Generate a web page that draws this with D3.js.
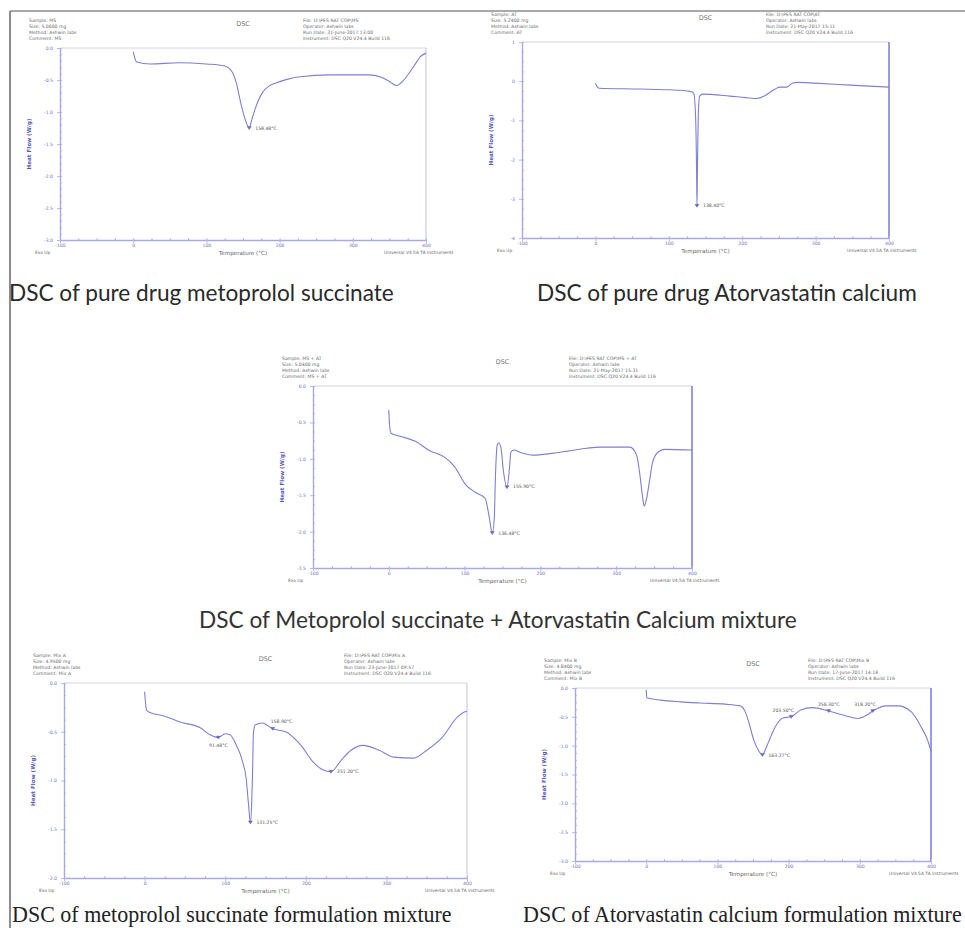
<!DOCTYPE html>
<html>
<head>
<meta charset="utf-8">
<script src="https://cdn.jsdelivr.net/npm/d3@7"></script>
<style>
  body { margin: 0; background: #fff; }
  svg { display: block; }
</style>
</head>
<body>
<svg id="fig" width="965" height="928"></svg>
<script>
// ---- Data -------------------------------------------------------------

// Temperature axis ticks shared by all thermograms (°C)
const tempTicks = [-100, 0, 100, 200, 300, 400];

// Heat flow curves as [temperature (°C), heat flow (W/g)]
const curveMS = [
  [0, -0.06], [2, -0.15], [5, -0.22], [23, -0.25], [64, -0.23], [100, -0.25],
  [125, -0.28], [135, -0.37], [141, -0.55], [146, -0.81], [152, -1.08],
  [158.48, -1.25], [162, -1.12], [166, -0.97], [171, -0.82], [177, -0.69],
  [185, -0.60], [194, -0.55], [210, -0.49], [228, -0.45], [269, -0.42],
  [323, -0.42], [340, -0.46], [351, -0.53], [360, -0.59], [368, -0.52],
  [378, -0.375], [386, -0.24], [392, -0.14], [400, -0.08]
];

const curveAT = [
  [0, -0.05], [3, -0.15], [5, -0.18], [61, -0.20], [100, -0.22], [129, -0.26],
  [134, -0.31], [136.5, -0.9], [137.8, -2.2], [138.4, -3.18], [139.2, -2.0],
  [140.5, -0.7], [142, -0.38], [146, -0.33], [183, -0.38], [205, -0.42],
  [220, -0.44], [230, -0.38], [238, -0.28], [245, -0.20], [251, -0.15],
  [261, -0.15], [268, -0.05], [276, -0.03], [299, -0.05], [347, -0.10],
  [400, -0.15]
];

const curveMix = [
  [0, -0.33], [1, -0.54], [3, -0.65], [15, -0.69], [35, -0.76], [54, -0.89],
  [74, -0.98], [87, -1.11], [101, -1.35], [114, -1.46], [127, -1.54],
  [132, -1.77], [136.48, -2.02], [139, -1.84], [141, -1.15], [143, -0.81],
  [145, -0.78], [148, -0.85], [151, -1.15], [155.9, -1.39], [159, -1.15],
  [161, -0.91], [165, -0.88], [173, -0.91], [190, -0.95], [226, -0.91],
  [279, -0.84], [318, -0.84], [327, -0.95], [331, -1.2], [334.5, -1.5],
  [337, -1.65], [340, -1.55], [344, -1.3], [348, -1.05], [355, -0.91],
  [364, -0.87], [400, -0.88]
];

const curveFormMS = [
  [0, -0.09], [2.5, -0.28], [6, -0.30], [25, -0.34], [44, -0.40], [69, -0.46],
  [81, -0.53], [91.48, -0.56], [100, -0.52], [106, -0.53], [114, -0.64],
  [121, -0.79], [126, -0.98], [129, -1.25], [131.25, -1.43], [133, -1.2],
  [134, -0.9], [135, -0.52], [137, -0.43], [146, -0.41], [158.9, -0.47],
  [175, -0.50], [194, -0.64], [209, -0.81], [221, -0.89], [231.2, -0.91],
  [244, -0.79], [256, -0.69], [271, -0.64], [291, -0.69], [309, -0.76],
  [334, -0.77], [350, -0.69], [369, -0.56], [388, -0.35], [396, -0.30],
  [400, -0.29]
];

const curveFormAT = [
  [0, -0.03], [1, -0.17], [20, -0.21], [48, -0.24], [76, -0.26], [111, -0.28],
  [132, -0.31], [139, -0.41], [144, -0.59], [151, -0.90], [157, -1.07],
  [163.27, -1.16], [168, -1.05], [172, -0.93], [182, -0.66], [192, -0.52],
  [203.5, -0.50], [217, -0.38], [234, -0.34], [256.3, -0.40], [280, -0.48],
  [297, -0.53], [310, -0.47], [318.2, -0.40], [337, -0.31], [354, -0.31],
  [372, -0.41], [386, -0.67], [396, -0.93], [400, -1.10]
];

// Annotated peak temperatures (°C)
const peaksMS = [158.48];
const peaksAT = [138.40];
const peaksMix = [136.48, 155.90];
const peaksFormMS = [91.48, 131.25, 158.90, 231.20];
const peaksFormAT = [163.27, 203.50, 256.30, 318.20];

// Heat flow axis ticks (W/g)
const yTicksMS = [0, -0.5, -1.0, -1.5, -2.0, -2.5, -3.0];
const yTicksAT = [1, 0, -1, -2, -3, -4];
const yTicksMix = [0, -0.5, -1.0, -1.5, -2.0, -2.5];
const yTicksFormMS = [0, -0.5, -1.0, -1.5, -2.0];
const yTicksFormAT = [0, -0.5, -1.0, -1.5, -2.0, -2.5, -3.0];

// Run information printed above each thermogram
const infoMS = ["Sample: MS", "Size: 5.0600 mg", "Method: Ashwin labs", "Comment: MS"];
const fileMS = ["File: D:\\PES RAT COP\\MS", "Operator: Ashwin labs", "Run Date: 21-June-2017 13:00", "Instrument: DSC Q20 V24.4 Build 116"];
const infoAT = ["Sample: AT", "Size: 5.2400 mg", "Method: Ashwin labs", "Comment: AT"];
const fileAT = ["File: D:\\PES RAT COP\\AT", "Operator: Ashwin labs", "Run Date: 21-May-2017 15:11", "Instrument: DSC Q20 V24.4 Build 116"];
const infoMix = ["Sample: MS + AT", "Size: 5.0400 mg", "Method: Ashwin labs", "Comment: MS + AT"];
const fileMix = ["File: D:\\PES RAT COP\\MS + AT", "Operator: Ashwin labs", "Run Date: 21-May-2017 15:31", "Instrument: DSC Q20 V24.4 Build 116"];
const infoFormMS = ["Sample: Mix A", "Size: 4.9500 mg", "Method: Ashwin labs", "Comment: Mix A"];
const fileFormMS = ["File: D:\\PES RAT COP\\Mix A", "Operator: Ashwin labs", "Run Date: 23-June-2017 09:57", "Instrument: DSC Q20 V24.4 Build 116"];
const infoFormAT = ["Sample: Mix B", "Size: 4.8400 mg", "Method: Ashwin labs", "Comment: Mix B"];
const fileFormAT = ["File: D:\\PES RAT COP\\Mix B", "Operator: Ashwin labs", "Run Date: 17-June-2017 14:18", "Instrument: DSC Q20 V24.4 Build 116"];

// Figure captions
const captions = [
  "DSC of pure drug metoprolol succinate",
  "DSC of pure drug Atorvastatin calcium",
  "DSC of Metoprolol succinate + Atorvastatin Calcium mixture",
  "DSC of metoprolol succinate formulation mixture",
  "DSC of Atorvastatin calcium formulation mixture"
];

// ---- Layout -----------------------------------------------------------

const panels = [
  { curve: curveMS, peaks: peaksMS, yTicks: yTicksMS, yDomain: [-3, 0], yMinor: 0.1, dec: 1,
    box: { l: 60, t: 48, r: 426, b: 240 }, info: infoMS, file: fileMS,
    labels: [{ dx: 6, dy: 2, a: "start" }] },
  { curve: curveAT, peaks: peaksAT, yTicks: yTicksAT, yDomain: [-4, 1], yMinor: 0.25, dec: 0,
    box: { l: 522, t: 42, r: 889, b: 238 }, info: infoAT, file: fileAT,
    labels: [{ dx: 6, dy: 1, a: "start" }], heavyRight: true },
  { curve: curveMix, peaks: peaksMix, yTicks: yTicksMix, yDomain: [-2.5, 0], yMinor: 0.125, dec: 1,
    box: { l: 313, t: 386, r: 692, b: 568 }, info: infoMix, file: fileMix,
    labels: [{ dx: 6, dy: 2, a: "start" }, { dx: 6, dy: 1, a: "start" }], heavyRight: true },
  { curve: curveFormMS, peaks: peaksFormMS, yTicks: yTicksFormMS, yDomain: [-2, 0], yMinor: 0.125, dec: 1,
    box: { l: 64, t: 683, r: 467, b: 878 }, info: infoFormMS, file: fileFormMS,
    labels: [{ dx: 0, dy: 9, a: "middle" }, { dx: 6, dy: 2, a: "start" }, { dx: -2, dy: -6, a: "start" }, { dx: 6, dy: 1, a: "start" }] },
  { curve: curveFormAT, peaks: peaksFormAT, yTicks: yTicksFormAT, yDomain: [-3, 0], yMinor: 0.125, dec: 1,
    box: { l: 575, t: 688, r: 931, b: 861 }, info: infoFormAT, file: fileFormAT,
    labels: [{ dx: 6, dy: 2, a: "start" }, { dx: 3, dy: -5, a: "end" }, { dx: 0, dy: -5, a: "middle" }, { dx: 3, dy: -5, a: "end" }], heavyRight: true }
];

const AXIS = "#b9b9e6";
const TICKTXT = "#7474c4";
const CURVE = "#7f7fd4";
const META = "#6a6a6a";

const svg = d3.select("#fig");

// Outer figure frame (left and top edges)
svg.append("line").attr("x1", 10).attr("y1", 11).attr("x2", 10).attr("y2", 928)
  .attr("stroke", "#666").attr("stroke-width", 1.5);
svg.append("line").attr("x1", 10).attr("y1", 11).attr("x2", 965).attr("y2", 11)
  .attr("stroke", "#555").attr("stroke-width", 1);

const fmtNum = dec => d => d.toFixed(dec);

function interpolateAt(curve, t) {
  for (let i = 1; i < curve.length; i++) {
    const [t0, v0] = curve[i - 1], [t1, v1] = curve[i];
    if (t >= t0 && t <= t1) return v0 + (v1 - v0) * (t - t0) / (t1 - t0);
  }
  return curve[curve.length - 1][1];
}

function drawPanel(p) {
  const { l, t, r, b } = p.box;
  const g = svg.append("g");
  const x = d3.scaleLinear().domain([-100, 400]).range([l, r]);
  const y = d3.scaleLinear().domain(p.yDomain).range([b, t]);

  // run information header
  const left = g.append("g").attr("font-family", "DejaVu Sans, sans-serif")
    .attr("font-size", 4.6).attr("fill", META);
  p.info.forEach((s, i) => left.append("text").attr("x", l - 31).attr("y", t - 26 + i * 6).text(s));
  p.file.forEach((s, i) => left.append("text").attr("x", r - 123).attr("y", t - 26 + i * 6).text(s));
  g.append("text").attr("x", (l + r) / 2).attr("y", t - 22).attr("text-anchor", "middle")
    .attr("font-family", "DejaVu Sans, sans-serif").attr("font-size", 6.5).attr("fill", "#777").text("DSC");

  // plot frame: top edge and right edge
  g.append("line").attr("x1", l).attr("x2", r).attr("y1", t).attr("y2", t)
    .attr("stroke", "#d4d4e4").attr("stroke-width", 1);
  g.append("line").attr("x1", r).attr("x2", r).attr("y1", t).attr("y2", b)
    .attr("stroke", p.heavyRight ? "#9a9ae0" : "#c8c8ee").attr("stroke-width", p.heavyRight ? 2 : 1.2);

  // minor ticks
  const yMinorVals = d3.range(p.yDomain[0], p.yDomain[1] + 1e-9, p.yMinor);
  g.append("g").attr("transform", `translate(${l},0)`)
    .call(d3.axisLeft(y).tickValues(yMinorVals).tickSize(-2).tickSizeOuter(0).tickFormat(""))
    .call(s => s.select(".domain").remove())
    .call(s => s.selectAll("line").attr("stroke", AXIS));
  g.append("g").attr("transform", `translate(0,${b})`)
    .call(d3.axisBottom(x).tickValues(d3.range(-100, 401, 25)).tickSize(-2).tickSizeOuter(0).tickFormat(""))
    .call(s => s.select(".domain").remove())
    .call(s => s.selectAll("line").attr("stroke", AXIS));

  // major axes
  const ya = g.append("g").attr("transform", `translate(${l},0)`)
    .call(d3.axisLeft(y).tickValues(p.yTicks).tickSize(3).tickSizeOuter(0).tickPadding(4).tickFormat(fmtNum(p.dec)));
  const xa = g.append("g").attr("transform", `translate(0,${b})`)
    .call(d3.axisBottom(x).tickValues(tempTicks).tickSize(3).tickSizeOuter(0).tickPadding(1).tickFormat(fmtNum(0)));
  [ya, xa].forEach(a => {
    a.select(".domain").attr("stroke", "#a8a8e2").attr("stroke-width", 1.4);
    a.selectAll(".tick line").attr("stroke", AXIS);
    a.selectAll("text").attr("fill", TICKTXT).attr("font-size", 4.6)
      .attr("font-family", "DejaVu Sans, sans-serif");
  });

  // axis titles and footer notes
  g.append("text").attr("x", (l + r) / 2).attr("y", b + 15).attr("text-anchor", "middle")
    .attr("font-family", "DejaVu Sans, sans-serif").attr("font-size", 5.6).attr("fill", "#666")
    .text("Temperature (°C)");
  g.append("text").attr("transform", `translate(${l - 29},${(t + b) / 2}) rotate(-90)`)
    .attr("text-anchor", "middle").attr("font-family", "DejaVu Sans, sans-serif")
    .attr("font-size", 5.6).attr("font-weight", "bold").attr("fill", "#5a5ab8")
    .text("Heat Flow (W/g)");
  g.append("text").attr("x", l - 25).attr("y", b + 14)
    .attr("font-family", "DejaVu Sans, sans-serif").attr("font-size", 4.4).attr("fill", META).text("Exo Up");
  g.append("text").attr("x", r - 42).attr("y", b + 14)
    .attr("font-family", "DejaVu Sans, sans-serif").attr("font-size", 4.4).attr("fill", META)
    .text("Universal V4.5A TA Instruments");

  // thermogram
  const line = d3.line().x(d => x(d[0])).y(d => y(d[1])).curve(d3.curveMonotoneX);
  g.append("path").datum(p.curve).attr("d", line)
    .attr("fill", "none").attr("stroke", CURVE).attr("stroke-width", 1.1);

  // peak markers and labels
  p.peaks.forEach((pk, i) => {
    const px = x(pk), py = y(interpolateAt(p.curve, pk));
    const lab = p.labels[i];
    g.append("path").attr("d", `M${px - 2},${py - 1.5}L${px + 2},${py - 1.5}L${px},${py + 1.5}Z`)
      .attr("fill", "#6b6bb8").attr("stroke", "#6b6bb8").attr("stroke-width", 0.5);
    g.append("text").attr("x", px + lab.dx).attr("y", py + lab.dy).attr("text-anchor", lab.a)
      .attr("font-family", "DejaVu Sans, sans-serif").attr("font-size", 4.6).attr("fill", "#555")
      .text(pk.toFixed(2) + "°C");
  });
}

panels.forEach(drawPanel);

// ---- Captions ---------------------------------------------------------

function fitCaption(text, x, yMid, width, family, color) {
  const el = svg.append("text").attr("x", x).attr("y", yMid).attr("dominant-baseline", "central")
    .attr("font-family", family).attr("font-size", 20).attr("fill", color).text(text);
  const w = el.node().getComputedTextLength();
  el.attr("font-size", 20 * width / w);
  return 20 * width / w;
}

const sansCap = "Lato, 'Open Sans', sans-serif";
fitCaption(captions[0], 9, 292, 385, sansCap, "#2a2a2a");
fitCaption(captions[1], 537, 292, 380, sansCap, "#2a2a2a");
fitCaption(captions[2], 199, 619, 598, sansCap, "#333");
fitCaption(captions[3], 12, 914, 440, "'Liberation Serif', serif", "#222");
fitCaption(captions[4], 523, 914, 439, "'Liberation Serif', serif", "#222");
</script>
</body>
</html>
